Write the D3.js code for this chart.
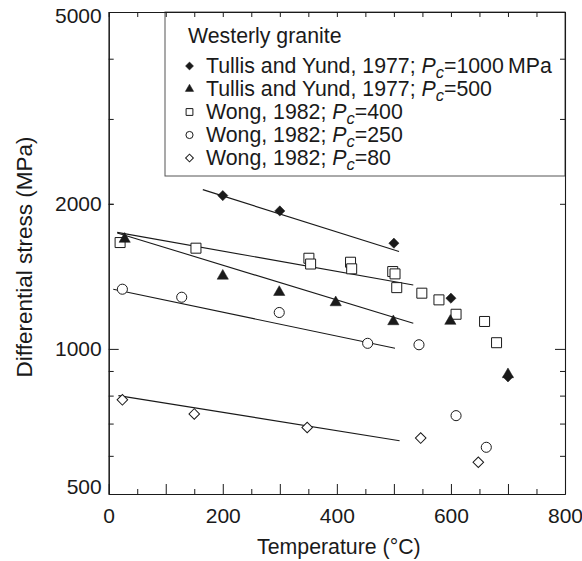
<!DOCTYPE html>
<html><head><meta charset="utf-8">
<script src="https://cdn.jsdelivr.net/npm/d3@7"></script>
<style>
body{margin:0;background:#fff}
text{font-family:"Liberation Sans",Arial,Helvetica,sans-serif;fill:#1a1a1a}
</style>
</head><body>
<svg id="chart" width="582" height="561"></svg>
<script>
// ---- data ----
const xTickLabels = [0, 200, 400, 600, 800];
const yTickLabels = [500, 1000, 2000, 5000];
const yMinorTicks = [600, 700, 800, 900, 2000, 3000, 4000];

const seriesNames = [
  ["Tullis and Yund, 1977; ", "=1000\u2009MPa"],
  ["Tullis and Yund, 1977; ", "=500"],
  ["Wong, 1982; ", "=400"],
  ["Wong, 1982; ", "=250"],
  ["Wong, 1982; ", "=80"]
];
const legendTitle = "Westerly granite";

const tempTY1000 = [200, 300, 500, 600, 700];
const stressTY1000 = [2080, 1933, 1657, 1274, 875];

const tempTY500 = [28, 200, 299, 398, 499, 599, 700];
const stressTY500 = [1690, 1417, 1311, 1248, 1140, 1142, 885];

const tempW400 = [20, 153, 351, 354, 424, 426, 498, 502, 505, 549, 579, 609, 659, 680];
const stressW400 = [1662, 1618, 1542, 1500, 1513, 1466, 1447, 1431, 1340, 1305, 1264, 1180, 1140, 1030];

const tempW250 = [24, 128, 299, 454, 544, 609, 662];
const stressW250 = [1330, 1280, 1190, 1027, 1020, 727, 625];

const tempW80 = [24, 150, 348, 547, 648];
const stressW80 = [784, 733, 687, 653, 582];

// fitted trend lines: [temperature, stress] end points
const fitTY1000 = [[165, 2140], [509, 1592]];
const fitTY500 = [[15, 1740], [534, 1130]];
const fitW400 = [[15, 1745], [534, 1357]];
const fitW250 = [[8, 1330], [502, 1003]];
const fitW80 = [[17, 800], [510, 645]];

// ---- drawing ----
const svg = d3.select("#chart");
const L = 108.7, R = 565, T = 12, B = 494;
const x = d3.scaleLinear().domain([0, 800]).range([L, R]);
const y = d3.scaleLog().domain([500, 5000]).range([B, T]);
const ink = "#1a1a1a";

// legend box (under the ticks)
svg.append("rect").attr("x", 165).attr("y", T).attr("width", R - 165).attr("height", 176 - T)
  .attr("fill", "none").attr("stroke", "#555").attr("stroke-width", 1);

function styleAxis(g) {
  g.selectAll("path.domain").attr("stroke", ink).attr("stroke-width", 1.1);
  g.selectAll("line").attr("stroke", ink).attr("stroke-width", 1);
  g.selectAll("text").attr("font-size", 21).attr("fill", ink)
    .attr("font-family", "'Liberation Sans',Arial,sans-serif");
}

const xMinor = d3.range(0, 801, 50).filter(v => v % 100 !== 0);
const xMajor = d3.range(0, 801, 100);

// bottom axis
svg.append("g").attr("transform", `translate(0,${B})`)
  .call(d3.axisBottom(x).tickValues(xMinor).tickSizeInner(-5).tickSizeOuter(0).tickFormat(""))
  .call(styleAxis);
svg.append("g").attr("transform", `translate(0,${B})`)
  .call(d3.axisBottom(x).tickValues(xMajor).tickSizeInner(-10).tickSizeOuter(0)
    .tickPadding(14).tickFormat(d => xTickLabels.includes(d) ? d : ""))
  .call(styleAxis);
// top axis
svg.append("g").attr("transform", `translate(0,${T})`)
  .call(d3.axisTop(x).tickValues(d3.range(0, 801, 50)).tickSizeInner(-5).tickSizeOuter(0).tickFormat(""))
  .call(styleAxis);
// left axis
svg.append("g").attr("transform", `translate(${L},0)`)
  .call(d3.axisLeft(y).tickValues(yMinorTicks).tickSizeInner(-5).tickSizeOuter(0).tickFormat(""))
  .call(styleAxis);
svg.append("g").attr("transform", `translate(${L},0)`)
  .call(d3.axisLeft(y).tickValues(yTickLabels).tickSizeOuter(0).tickPadding(7)
    .tickSizeInner(-10).tickFormat(d3.format("d")))
  .call(styleAxis)
  .call(g => g.selectAll(".tick line").attr("x2", d => d === 1000 ? 10 : 5))
  .call(g => g.selectAll(".tick text").attr("y", d => d === 500 ? -7 : d === 5000 ? 4 : 0));
// right axis
svg.append("g").attr("transform", `translate(${R},0)`)
  .call(d3.axisRight(y).tickValues(yMinorTicks.concat([1000])).tickSizeOuter(0).tickFormat("")
    .tickSizeInner(-5))
  .call(styleAxis)
  .call(g => g.selectAll(".tick line").attr("x2", d => d === 1000 ? -10 : -5));

// axis titles
svg.append("text").attr("x", (L + R) / 2 + 2).attr("y", 554).attr("text-anchor", "middle")
  .attr("font-size", 21.3).text("Temperature (\u00B0C)");
svg.append("text").attr("transform", "translate(32,257) rotate(-90)").attr("text-anchor", "middle")
  .attr("font-size", 22.5).text("Differential stress (MPa)");

// trend lines
const line = d3.line().x(d => x(d[0])).y(d => y(d[1]));
[fitTY1000, fitTY500, fitW400, fitW250, fitW80].forEach(f => {
  svg.append("path").attr("d", line(f)).attr("fill", "none").attr("stroke", ink).attr("stroke-width", 1.1);
});

// marker definitions
const markers = [
  {t: tempTY1000, s: stressTY1000, type: d3.symbolSquare, size: 52, rot: 45, fill: ink, leg: 32},
  {t: tempTY500, s: stressTY500, type: d3.symbolTriangle, size: 55, rot: 0, fill: ink, leg: 30},
  {t: tempW400, s: stressW400, type: d3.symbolSquare, size: 100, rot: 0, fill: "none", leg: 46},
  {t: tempW250, s: stressW250, type: d3.symbolCircle, size: 80, rot: 0, fill: "none", leg: 40},
  {t: tempW80, s: stressW80, type: d3.symbolSquare, size: 56, rot: 45, fill: "none", leg: 30}
];

// draw open markers first, filled on top
const drawOrder = [2, 3, 4, 0, 1];
drawOrder.forEach(i => {
  const m = markers[i];
  const pts = m.t.map((t, k) => [t, m.s[k]]);
  svg.append("g").selectAll("path").data(pts).join("path")
    .attr("d", d3.symbol().type(m.type).size(m.size))
    .attr("transform", d => `translate(${x(d[0])},${y(d[1])}) rotate(${m.rot})`)
    .attr("fill", m.fill === "none" ? "#fff" : m.fill)
    .attr("stroke", ink).attr("stroke-width", m.fill === "none" ? 1 : 0.5);
});

// legend
svg.append("text").attr("x", 188).attr("y", 43).attr("font-size", 21.3).text(legendTitle);
const rowY = [72.5, 95.5, 118.5, 141.5, 164.5];
markers.forEach((m, i) => {
  const yy = rowY[i] - 6.5;
  svg.append("path").attr("d", d3.symbol().type(m.type).size(m.leg))
    .attr("transform", `translate(189.5,${yy}) rotate(${m.rot})`)
    .attr("fill", m.fill === "none" ? "#fff" : m.fill)
    .attr("stroke", ink).attr("stroke-width", m.fill === "none" ? 1 : 0.5);
  const t = svg.append("text").attr("x", 206).attr("y", rowY[i]).attr("font-size", 21.3);
  t.append("tspan").text(seriesNames[i][0]);
  t.append("tspan").attr("font-style", "italic").text("P");
  t.append("tspan").attr("font-style", "italic").attr("font-size", 16.5).attr("dy", 5).text("c");
  t.append("tspan").attr("dy", -5).text(seriesNames[i][1]);
});
</script>
</body></html>
